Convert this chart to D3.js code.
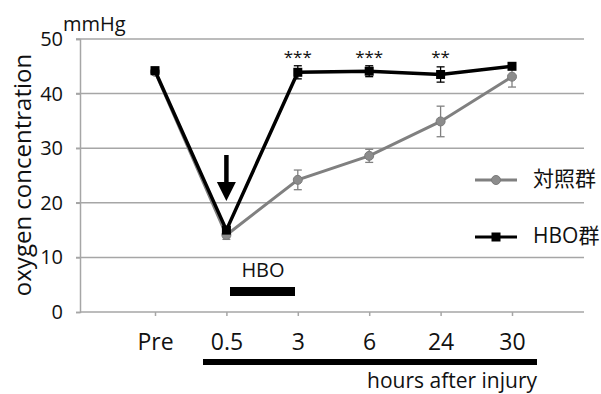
<!DOCTYPE html>
<html>
<head>
<meta charset="utf-8">
<script src="https://cdn.jsdelivr.net/npm/d3@7"></script>
<style>
  body { margin: 0; background: #fff; }
  text { font-family: "Open Sans", "Noto Sans CJK JP", sans-serif; fill: #111; }
</style>
</head>
<body>
<div id="chart"></div>
<script>
var svgWidth = 601;
var svgHeight = 394;

// data
var categories = ["Pre", "0.5", "3", "6", "24", "30"];
var controlMean = [44.0, 14.1, 24.2, 28.6, 34.9, 43.1];
var controlErr  = [0.5, 0.8, 1.8, 1.2, 2.8, 1.9];
var hboMean = [44.2, 15.0, 43.9, 44.1, 43.5, 45.0];
var hboErr  = [0.6, 0.6, 1.2, 1.0, 1.4, 0.5];
var stars = ["", "", "***", "***", "**", ""];
var yTicks = [0, 10, 20, 30, 40, 50];

var svg = d3.select("#chart")
  .append("svg")
  .attr("width", svgWidth)
  .attr("height", svgHeight);

var plotLeft = 80, plotRight = 584;

var x = d3.scalePoint()
  .domain(categories)
  .range([155, 512]);

var y = d3.scaleLinear()
  .domain([0, 50])
  .range([312, 39]);

// gridlines
svg.append("g")
  .selectAll("line")
  .data(yTicks.slice(1))
  .enter()
  .append("line")
  .attr("x1", plotLeft - 4)
  .attr("x2", plotRight)
  .attr("y1", d => y(d))
  .attr("y2", d => y(d))
  .attr("stroke", "#a6a6a6")
  .attr("stroke-width", 1.5);

// y axis
var leftAxis = d3.axisLeft(y).tickValues(yTicks).tickSize(4).tickPadding(13);
var yAxis = svg.append("g")
  .attr("transform", `translate(${plotLeft},0)`)
  .call(leftAxis);
yAxis.select(".domain").attr("stroke", "#a6a6a6").attr("stroke-width", 1.5);
yAxis.selectAll(".tick line").attr("stroke", "#a6a6a6").attr("stroke-width", 1.5);
yAxis.selectAll(".tick text")
  .attr("font-size", "20px")
  .style("font-family", "'Open Sans', sans-serif")
  .attr("fill", "#111");

// x axis line + ticks
svg.append("line")
  .attr("x1", plotLeft).attr("x2", plotRight)
  .attr("y1", y(0)).attr("y2", y(0))
  .attr("stroke", "#a6a6a6").attr("stroke-width", 1.5);

var bottomAxis = d3.axisBottom(x).tickSize(4);
var xAxis = svg.append("g")
  .attr("transform", `translate(0,${y(0)})`)
  .call(bottomAxis);
xAxis.select(".domain").remove();
xAxis.selectAll(".tick line").attr("stroke", "#a6a6a6").attr("stroke-width", 1.5);
xAxis.selectAll(".tick text")
  .attr("y", 38)
  .attr("dy", null)
  .attr("font-size", "23px")
  .style("font-family", "'Open Sans', sans-serif")
  .attr("fill", "#111");

// axis titles
svg.append("text")
  .attr("transform", "rotate(-90)")
  .attr("x", -175)
  .attr("y", 31)
  .attr("text-anchor", "middle")
  .attr("font-size", "24px")
  .text("oxygen concentration");

svg.append("text")
  .attr("x", 63)
  .attr("y", 31)
  .attr("font-size", "20px")
  .text("mmHg");

// series
function drawSeries(mean, err, color, width, shape) {
  var g = svg.append("g");
  var line = d3.line()
    .x((d, i) => x(categories[i]))
    .y(d => y(d));

  g.append("path")
    .datum(mean)
    .attr("d", line)
    .attr("fill", "none")
    .attr("stroke", color)
    .attr("stroke-width", width);

  // error bars
  mean.forEach(function(m, i) {
    var cx = x(categories[i]);
    var e = err[i];
    g.append("line")
      .attr("x1", cx).attr("x2", cx)
      .attr("y1", y(m - e)).attr("y2", y(m + e))
      .attr("stroke", color).attr("stroke-width", 1.3);
    [m - e, m + e].forEach(function(v) {
      g.append("line")
        .attr("x1", cx - 4).attr("x2", cx + 4)
        .attr("y1", y(v)).attr("y2", y(v))
        .attr("stroke", color).attr("stroke-width", 1.3);
    });
  });

  if (shape === "circle") {
    g.selectAll("circle")
      .data(mean)
      .enter()
      .append("circle")
      .attr("cx", (d, i) => x(categories[i]))
      .attr("cy", d => y(d))
      .attr("r", 4.5)
      .attr("fill", "#8c8c8c")
      .attr("stroke", "#7a7a7a");
  } else {
    g.selectAll("rect")
      .data(mean)
      .enter()
      .append("rect")
      .attr("x", (d, i) => x(categories[i]) - 4.5)
      .attr("y", d => y(d) - 4.5)
      .attr("width", 9)
      .attr("height", 9)
      .attr("fill", "#000");
  }
}

drawSeries(controlMean, controlErr, "#808080", 3, "circle");
drawSeries(hboMean, hboErr, "#000", 3.5, "square");

// significance stars
svg.append("g")
  .selectAll("text")
  .data(stars)
  .enter()
  .append("text")
  .attr("x", (d, i) => x(categories[i]))
  .attr("y", 63)
  .attr("text-anchor", "middle")
  .attr("font-size", "17px")
  .text(d => d);

// arrow at 0.5
var ax = x("0.5");
svg.append("line")
  .attr("x1", ax).attr("x2", ax)
  .attr("y1", 155).attr("y2", 186)
  .attr("stroke", "#000").attr("stroke-width", 4.5);
svg.append("path")
  .attr("d", `M${ax - 9.5},182 L${ax + 9.5},182 L${ax},201 Z`)
  .attr("fill", "#000");

// HBO treatment bar
svg.append("text")
  .attr("x", 263)
  .attr("y", 277)
  .attr("text-anchor", "middle")
  .attr("font-size", "20px")
  .text("HBO");
svg.append("rect")
  .attr("x", 230).attr("y", 287)
  .attr("width", 65).attr("height", 9)
  .attr("fill", "#000");

// hours bar
svg.append("rect")
  .attr("x", 203).attr("y", 359)
  .attr("width", 334).attr("height", 6)
  .attr("fill", "#000");
svg.append("text")
  .attr("x", 537)
  .attr("y", 388)
  .attr("text-anchor", "end")
  .attr("font-size", "21px")
  .text("hours after injury");

// legend
var legend = [
  { name: "対照群", color: "#808080", shape: "circle", y: 180 },
  { name: "HBO群", color: "#000", shape: "square", y: 237 }
];
legend.forEach(function(l) {
  svg.append("line")
    .attr("x1", 475).attr("x2", 517)
    .attr("y1", l.y).attr("y2", l.y)
    .attr("stroke", l.color).attr("stroke-width", 3);
  if (l.shape === "circle") {
    svg.append("circle")
      .attr("cx", 496).attr("cy", l.y).attr("r", 4.5)
      .attr("fill", "#8c8c8c").attr("stroke", "#7a7a7a");
  } else {
    svg.append("rect")
      .attr("x", 491.5).attr("y", l.y - 4.5)
      .attr("width", 9).attr("height", 9)
      .attr("fill", "#000");
  }
  svg.append("text")
    .attr("x", 533)
    .attr("y", l.y + 6)
    .attr("font-size", "21px")
    .text(l.name);
});
</script>
</body>
</html>
